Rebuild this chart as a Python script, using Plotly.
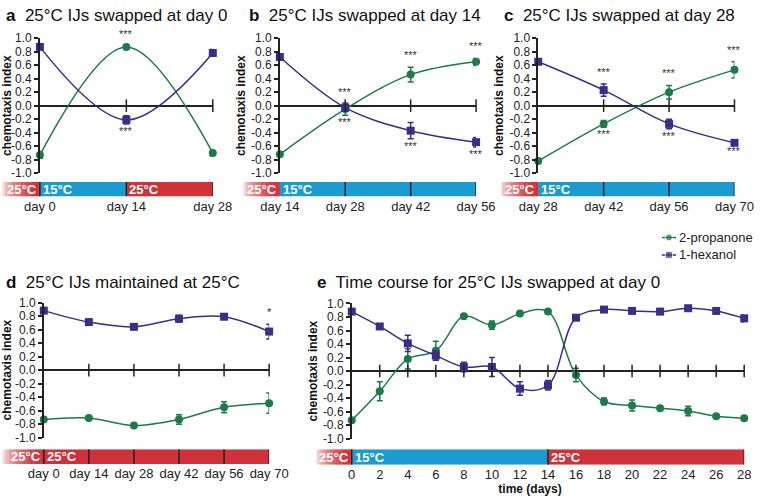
import plotly.graph_objects as go

W, H = 771, 502
FONT = "Liberation Sans, Arial, Helvetica, sans-serif"
GREEN = "#1e7a4b"
PURPLE = "#3d2c88"
RED = "#cf3238"
BLUE = "#1b9bd0"

# ---------------- data ----------------
Y_TICKS = [1.0, 0.8, 0.6, 0.4, 0.2, 0.0, -0.2, -0.4, -0.6, -0.8, -1.0]
Y_TICK_LABELS = ["1.0", "0.8", "0.6", "0.4", "0.2", "0.0", "-0.2", "-0.4", "-0.6", "-0.8", "-1.0"]

SERIES_NAMES = ["2-propanone", "1-hexanol"]

# panel a
A_DAYS = [0, 14, 28]
A_PROP = [-0.73, 0.87, -0.70]
A_PROP_ERR = [0.05, 0.02, 0.04]
A_HEX = [0.87, -0.21, 0.78]
A_HEX_ERR = [0.02, 0.06, 0.05]
A_PROP_STARS = ["", "***", ""]
A_HEX_STARS = ["", "***", ""]
A_TICKS = [0, 14, 28]
A_TICK_LABELS = ["day 0", "day 14", "day 28"]

# panel b
B_DAYS = [14, 28, 42, 56]
B_PROP = [-0.72, -0.05, 0.46, 0.65]
B_PROP_ERR = [0.03, 0.09, 0.11, 0.05]
B_HEX = [0.72, -0.03, -0.37, -0.54]
B_HEX_ERR = [0.04, 0.05, 0.12, 0.07]
B_PROP_STARS = ["", "***", "***", "***"]
B_HEX_STARS = ["", "***", "***", "***"]
B_TICKS = [14, 28, 42, 56]
B_TICK_LABELS = ["day 14", "day 28", "day 42", "day 56"]

# panel c
C_DAYS = [28, 42, 56, 70]
C_PROP = [-0.82, -0.27, 0.20, 0.53]
C_PROP_ERR = [0.02, 0.05, 0.10, 0.12]
C_HEX = [0.65, 0.23, -0.27, -0.55]
C_HEX_ERR = [0.03, 0.09, 0.07, 0.02]
C_PROP_STARS = ["", "***", "***", "***"]
C_HEX_STARS = ["", "***", "***", "***"]
C_TICKS = [28, 42, 56, 70]
C_TICK_LABELS = ["day 28", "day 42", "day 56", "day 70"]

# panel d
D_DAYS = [0, 14, 28, 42, 56, 70]
D_PROP = [-0.73, -0.71, -0.82, -0.73, -0.55, -0.49]
D_PROP_ERR = [0.03, 0.03, 0.02, 0.07, 0.08, 0.15]
D_HEX = [0.88, 0.71, 0.64, 0.76, 0.79, 0.57]
D_HEX_ERR = [0.02, 0.04, 0.03, 0.05, 0.03, 0.11]
D_PROP_STARS = ["", "", "", "", "", ""]
D_HEX_STARS = ["", "", "", "", "", "*"]
D_TICKS = [0, 14, 28, 42, 56, 70]
D_TICK_LABELS = ["day 0", "day 14", "day 28", "day 42", "day 56", "day 70"]

# panel e
E_DAYS = [0, 2, 4, 6, 8, 10, 12, 14, 16, 18, 20, 22, 24, 26, 28]
E_PROP = [-0.73, -0.30, 0.18, 0.30, 0.81, 0.68, 0.85, 0.88, -0.06, -0.45, -0.51, -0.55, -0.59, -0.67, -0.70]
E_PROP_ERR = [0.03, 0.14, 0.15, 0.14, 0.02, 0.06, 0.03, 0.02, 0.10, 0.05, 0.08, 0.02, 0.07, 0.03, 0.03]
E_HEX = [0.88, 0.66, 0.41, 0.23, 0.06, 0.06, -0.26, -0.21, 0.79, 0.91, 0.89, 0.88, 0.93, 0.89, 0.78]
E_HEX_ERR = [0.02, 0.03, 0.12, 0.07, 0.07, 0.14, 0.10, 0.07, 0.02, 0.02, 0.02, 0.03, 0.02, 0.02, 0.05]
E_PROP_STARS = [""] * 15
E_HEX_STARS = [""] * 15
E_TICKS = [0, 2, 4, 6, 8, 10, 12, 14, 16, 18, 20, 22, 24, 26, 28]
E_TICK_LABELS = ["0", "2", "4", "6", "8", "10", "12", "14", "16", "18", "20", "22", "24", "26", "28"]

# temperature regimes: (start, end, label)
A_PHASES = [(0, 14, "15°C"), (14, 28, "25°C")]
B_PHASES = [(14, 56, "15°C")]
C_PHASES = [(28, 70, "15°C")]
D_PHASES = [(0, 70, "25°C")]
E_PHASES = [(0, 14, "15°C"), (14, 28, "25°C")]
A_SEPS = [0, 14, 28]
B_SEPS = [28, 42, 56]
C_SEPS = [42, 56, 70]
D_SEPS = [0, 14, 28, 42, 56, 70]
E_SEPS = [0, 14, 28]

TITLES = [
    ("a", "25°C IJs swapped at day 0"),
    ("b", "25°C IJs swapped at day 14"),
    ("c", "25°C IJs swapped at day 28"),
    ("d", "25°C IJs maintained at 25°C"),
    ("e", "Time course for 25°C IJs swapped at day 0"),
]

# ---------------- layout geometry (pixels of the 771x502 frame) ----------------
panels = [
    dict(days=A_DAYS, prop=A_PROP, perr=A_PROP_ERR, hexa=A_HEX, herr=A_HEX_ERR, pst=A_PROP_STARS, hst=A_HEX_STARS,
         ticks=A_TICKS, tlabels=A_TICK_LABELS, phases=A_PHASES, seps=A_SEPS,
         px=(39, 217), py=(32, 171), bx0=0, by=(180, 195), tx=2, ty=9),
    dict(days=B_DAYS, prop=B_PROP, perr=B_PROP_ERR, hexa=B_HEX, herr=B_HEX_ERR, pst=B_PROP_STARS, hst=B_HEX_STARS,
         ticks=B_TICKS, tlabels=B_TICK_LABELS, phases=B_PHASES, seps=B_SEPS,
         px=(286, 488), py=(32, 171), bx0=248, by=(180, 195), tx=252, ty=9),
    dict(days=C_DAYS, prop=C_PROP, perr=C_PROP_ERR, hexa=C_HEX, herr=C_HEX_ERR, pst=C_PROP_STARS, hst=C_HEX_STARS,
         ticks=C_TICKS, tlabels=C_TICK_LABELS, phases=C_PHASES, seps=C_SEPS,
         px=(552, 754), py=(32, 171), bx0=513, by=(180, 195), tx=515, ty=9),
    dict(days=D_DAYS, prop=D_PROP, perr=D_PROP_ERR, hexa=D_HEX, herr=D_HEX_ERR, pst=D_PROP_STARS, hst=D_HEX_STARS,
         ticks=D_TICKS, tlabels=D_TICK_LABELS, phases=D_PHASES, seps=D_SEPS,
         px=(43, 275), py=(304, 443), bx0=0, by=(455, 470), tx=2, ty=283),
    dict(days=E_DAYS, prop=E_PROP, perr=E_PROP_ERR, hexa=E_HEX, herr=E_HEX_ERR, pst=E_PROP_STARS, hst=E_HEX_STARS,
         ticks=E_TICKS, tlabels=E_TICK_LABELS, phases=E_PHASES, seps=E_SEPS,
         px=(360, 764), py=(305, 444), bx0=323, by=(455, 471), tx=322, ty=283),
]

fig = go.Figure()
layout = dict(
    autosize=True, margin=dict(l=0, r=0, t=0, b=0, pad=0),
    paper_bgcolor="white", plot_bgcolor="white",
    font=dict(family=FONT, size=12, color="#222"),
    showlegend=False,
)
shapes, annotations = [], []

for i, p in enumerate(panels):
    k, kb = i + 1, i + 6
    xs, ys, xbs, ybs = f"x{k}", f"y{k}", f"x{kb}", f"y{kb}"
    xk = "xaxis" if k == 1 else f"xaxis{k}"
    yk = "yaxis" if k == 1 else f"yaxis{k}"
    d0, d1 = p["ticks"][0], p["ticks"][-1]
    x0, x1 = p["px"]
    layout[xk] = dict(domain=[x0 / W, x1 / W], range=[d0, d1], anchor=ys, showticklabels=False,
                      showline=False, ticks="", showgrid=False, zeroline=False, fixedrange=True)
    layout[yk] = dict(domain=[1 - p["py"][1] / H, 1 - p["py"][0] / H], range=[-1, 1], anchor=xs,
                      tickvals=Y_TICKS, ticktext=Y_TICK_LABELS, ticks="outside", ticklen=4, tickwidth=1.5,
                      tickcolor="#222", showline=True, linecolor="#222", linewidth=1.5, showgrid=False,
                      zeroline=True, zerolinecolor="#222", zerolinewidth=1.5,
                      tickfont=dict(size=12, color="#222"),
                      title=dict(text="<b>chemotaxis index</b>", font=dict(size=12, color="#111"), standoff=3))
    # temperature bar axes
    bl = d0 - (x0 - p["bx0"]) / (x1 - x0) * (d1 - d0)
    layout[f"xaxis{kb}"] = dict(domain=[p["bx0"] / W, x1 / W], range=[bl, d1], anchor=ybs,
                                tickvals=p["ticks"], ticktext=p["tlabels"], ticks="", showline=False,
                                showgrid=False, zeroline=False, fixedrange=True,
                                tickfont=dict(size=13, color="#222"))
    if i == 4:
        layout[f"xaxis{kb}"]["title"] = dict(text="<b>time (days)</b>", font=dict(size=12, color="#111"), standoff=2)
    layout[f"yaxis{kb}"] = dict(domain=[1 - p["by"][1] / H, 1 - p["by"][0] / H], range=[0, 1],
                                anchor=xbs, visible=False, fixedrange=True)

    # series
    for name, vals, errs, col, sym in [(SERIES_NAMES[0], p["prop"], p["perr"], GREEN, "circle"),
                                       (SERIES_NAMES[1], p["hexa"], p["herr"], PURPLE, "square")]:
        fig.add_trace(go.Scatter(
            x=p["days"], y=vals, name=name, mode="lines+markers", xaxis=xs, yaxis=ys,
            line=dict(color=col, width=1.5, shape="spline", smoothing=1.0),
            marker=dict(symbol=sym, size=8, color=col),
            error_y=dict(type="data", array=errs, color=col, thickness=1.5, width=3),
            cliponaxis=False, hoverinfo="x+y"))

    # x tick marks crossing the zero line
    fig.add_trace(go.Scatter(
        x=p["ticks"][1:], y=[0] * (len(p["ticks"]) - 1), mode="markers", xaxis=xs, yaxis=ys,
        marker=dict(symbol="line-ns", size=9, color="#222", line=dict(width=1.5, color="#222")),
        cliponaxis=False, hoverinfo="skip"))

    # significance stars
    for j, day in enumerate(p["days"]):
        for vals, errs, stars, other in [(p["prop"], p["perr"], p["pst"], p["hexa"]),
                                          (p["hexa"], p["herr"], p["hst"], p["prop"])]:
            if not stars[j]:
                continue
            if vals[j] >= other[j]:
                annotations.append(dict(x=day, y=vals[j] + errs[j], xref=xs, yref=ys, text=stars[j],
                                        showarrow=False, yanchor="bottom", yshift=4,
                                        font=dict(size=11, color="#333")))
            else:
                annotations.append(dict(x=day, y=vals[j] - errs[j], xref=xs, yref=ys, text=stars[j],
                                        showarrow=False, yanchor="top", yshift=1,
                                        font=dict(size=11, color="#333")))

    # temperature bar: gradient lead-in (25°C) then phases
    n = 24
    for s in range(n):
        a0 = bl + (d0 - bl) * s / n
        a1 = bl + (d0 - bl) * (s + 1) / n
        shapes.append(dict(type="rect", xref=xbs, yref=ybs, x0=a0, x1=a1 + (d0 - bl) * 0.01, y0=0, y1=1,
                           fillcolor=RED, opacity=min(1.0, ((s + 0.5) / n) ** 0.6 * 1.1), line=dict(width=0),
                           layer="below"))
    annotations.append(dict(x=d0, y=0.5, xref=xbs, yref=ybs, text="<b>25°C</b>", showarrow=False,
                            xanchor="right", xshift=-1, font=dict(size=13, color="white")))
    for (s0, s1, lab) in p["phases"]:
        shapes.append(dict(type="rect", xref=xbs, yref=ybs, x0=s0, x1=s1, y0=0, y1=1,
                           fillcolor=BLUE if lab == "15°C" else RED, line=dict(width=0), layer="below"))
        annotations.append(dict(x=s0, y=0.5, xref=xbs, yref=ybs, text=f"<b>{lab}</b>", showarrow=False,
                                xanchor="left", xshift=1, font=dict(size=13, color="white")))
    for sd in p["seps"]:
        shapes.append(dict(type="line", xref=xbs, yref=ybs, x0=sd, x1=sd, y0=0, y1=1,
                           line=dict(color="#222", width=1.5)))

    # panel title
    letter, ttl = TITLES[i]
    annotations.append(dict(x=p["tx"] / W, y=1 - p["ty"] / H, xref="paper", yref="paper",
                            text=f"<b>{letter}</b>  {ttl}", showarrow=False, xanchor="left", yanchor="middle",
                            font=dict(size=17, color="#111")))

# ---------------- compact legend (keys on a small dedicated axis) ----------------
layout["xaxis11"] = dict(domain=[679 / W, 694 / W], range=[0, 1], anchor="y11", visible=False, fixedrange=True)
layout["yaxis11"] = dict(domain=[1 - 264 / H, 1 - 228 / H], range=[-0.5, 1.5], anchor="x11", visible=False,
                         fixedrange=True)
for row, (name, col, sym) in enumerate([(SERIES_NAMES[0], GREEN, "circle"), (SERIES_NAMES[1], PURPLE, "square")]):
    ypos = 1 - row
    fig.add_trace(go.Scatter(x=[0, 0.5, 1], y=[ypos] * 3, mode="lines+markers", xaxis="x11", yaxis="y11",
                             line=dict(color=col, width=1.5), marker=dict(symbol=sym, size=[0, 7, 0], color=col),
                             cliponaxis=False, hoverinfo="skip"))
    annotations.append(dict(x=695 / W, y=ypos, xref="paper", yref="y11", text=name, showarrow=False,
                            xanchor="left", yanchor="middle", font=dict(size=13, color="#222")))

layout["shapes"] = shapes
layout["annotations"] = annotations
fig.update_layout(**layout)
fig.write_html("out.html", config={"displayModeBar": False}, default_width="100vw", default_height="100vh",
               post_script="document.documentElement.style.overflow='hidden';"
                           "document.body.style.margin='0';document.body.style.overflow='hidden';")
